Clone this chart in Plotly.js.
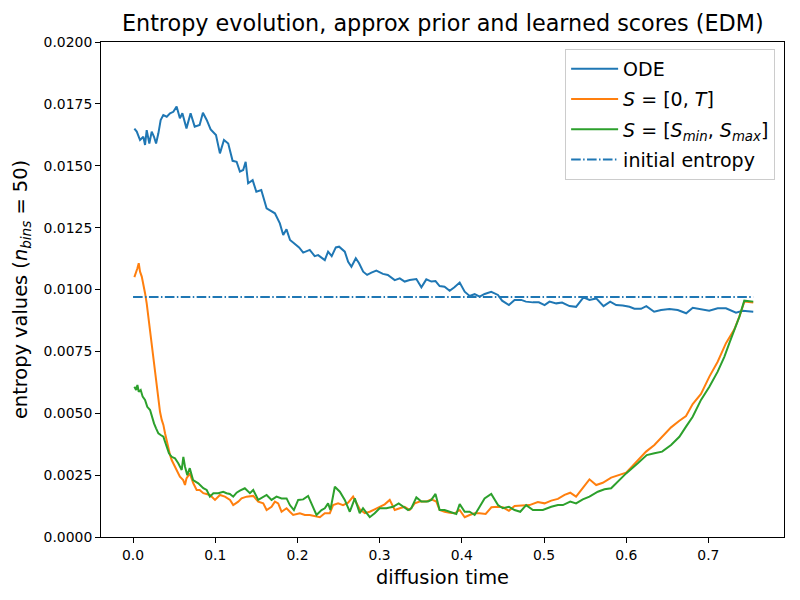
<!DOCTYPE html>
<html>
<head>
<meta charset="utf-8">
<script src="https://cdn.plot.ly/plotly-3.0.1.min.js"></script>
<style>html,body{margin:0;padding:0;background:#fff;}#chart{width:800px;height:600px;}</style>
</head>
<body>
<div id="chart"></div>
<script>
// ODE entropy over diffusion time
const odeT = [0.0016,0.0045,0.0085,0.0125,0.0146,0.0166,0.0198,0.0227,0.0255,0.028,0.0308,0.0336,0.0368,0.041,0.045,0.049,0.053,0.057,0.060,0.065,0.070,0.075,0.081,0.085,0.0896,0.0944,0.1009,0.1057,0.1106,0.1158,0.1211,0.126,0.130,0.134,0.137,0.140,0.1455,0.150,0.156,0.1625,0.1726,0.1786,0.1827,0.1867,0.191,0.197,0.202,0.207,0.215,0.221,0.2252,0.2333,0.2373,0.2417,0.2467,0.2507,0.2576,0.2617,0.2657,0.271,0.275,0.280,0.2848,0.290,0.296,0.304,0.310,0.3184,0.3245,0.3305,0.3366,0.3447,0.3508,0.3568,0.363,0.368,0.373,0.379,0.3852,0.391,0.3974,0.4035,0.4095,0.4156,0.4217,0.4278,0.4358,0.444,0.449,0.4573,0.4642,0.4723,0.478,0.4865,0.4937,0.5007,0.5067,0.5149,0.522,0.531,0.539,0.548,0.5553,0.5635,0.5724,0.5805,0.5878,0.5958,0.604,0.61,0.618,0.6245,0.634,0.6425,0.6526,0.6627,0.673,0.681,0.691,0.701,0.7113,0.7214,0.7336,0.7417,0.7546];
const odeV = [0.0165,0.01638,0.01604,0.01617,0.01584,0.01644,0.0159,0.01638,0.01617,0.0159,0.01631,0.01685,0.01705,0.01698,0.01712,0.01718,0.01739,0.01692,0.01712,0.01651,0.01712,0.01658,0.01665,0.01714,0.01685,0.01647,0.01624,0.0155,0.01604,0.0159,0.0152,0.01516,0.01476,0.01483,0.01516,0.01429,0.01442,0.01395,0.01402,0.01328,0.01308,0.01267,0.0122,0.01243,0.0120,0.01184,0.0117,0.01149,0.0116,0.01135,0.01139,0.01119,0.01153,0.01135,0.0117,0.01173,0.01153,0.01112,0.01092,0.01126,0.01106,0.01072,0.01059,0.01068,0.01076,0.01063,0.01059,0.01038,0.01045,0.01032,0.01038,0.01042,0.01009,0.01041,0.01032,0.01034,0.01014,0.01011,0.00995,0.01009,0.01028,0.00991,0.00974,0.00981,0.00971,0.00982,0.00991,0.00978,0.00955,0.00937,0.00958,0.00958,0.00951,0.00948,0.00948,0.00937,0.00951,0.00944,0.00947,0.00933,0.0093,0.00968,0.00958,0.00964,0.00933,0.00951,0.00937,0.00935,0.0093,0.00922,0.00922,0.00933,0.0091,0.00917,0.00921,0.00917,0.00904,0.00926,0.0092,0.00914,0.00924,0.00924,0.00906,0.00914,0.0091];

// S = [0, T]
const fullT = [0.0016,0.0035,0.0053,0.0069,0.0085,0.0106,0.0125,0.0146,0.0166,0.0186,0.0207,0.0227,0.0247,0.0267,0.0288,0.0308,0.0328,0.0349,0.0369,0.0389,0.041,0.043,0.045,0.047,0.0498,0.053,0.057,0.061,0.0632,0.065,0.069,0.0733,0.0774,0.081,0.0855,0.0935,0.0997,0.1057,0.1118,0.118,0.1219,0.128,0.132,0.1381,0.1462,0.1523,0.1584,0.1625,0.1685,0.1726,0.1766,0.1807,0.1868,0.1908,0.1948,0.203,0.209,0.215,0.221,0.2273,0.2333,0.2394,0.2434,0.2495,0.2555,0.2617,0.2677,0.2718,0.2758,0.282,0.288,0.294,0.300,0.3062,0.3123,0.3184,0.3245,0.3305,0.3366,0.3427,0.3488,0.3568,0.3629,0.369,0.373,0.379,0.3852,0.3913,0.3974,0.4035,0.4095,0.4156,0.4217,0.429,0.436,0.444,0.45,0.4573,0.4642,0.4723,0.4824,0.4925,0.5007,0.5088,0.5169,0.525,0.5319,0.539,0.5472,0.5553,0.5635,0.5715,0.5817,0.5918,0.5999,0.608,0.616,0.6242,0.6343,0.6444,0.6546,0.6647,0.6728,0.6809,0.691,0.7012,0.7113,0.7214,0.7316,0.7377,0.7437,0.7546];
const fullV = [0.0105,0.01065,0.01086,0.01106,0.01072,0.01052,0.01025,0.00985,0.00944,0.0089,0.00836,0.00783,0.00715,0.00661,0.00607,0.00554,0.00506,0.00473,0.00453,0.00419,0.00385,0.00358,0.00331,0.00311,0.00291,0.00271,0.00244,0.0023,0.0021,0.00237,0.00257,0.00217,0.0019,0.0019,0.00177,0.0017,0.0015,0.0017,0.00163,0.0015,0.00129,0.00143,0.00156,0.00163,0.00166,0.00143,0.00136,0.00109,0.00122,0.00143,0.00136,0.00102,0.00116,0.00102,0.00089,0.00096,0.00089,0.00089,0.00085,0.0008,0.00096,0.00096,0.00129,0.00136,0.00129,0.00139,0.00163,0.00136,0.00112,0.00096,0.00102,0.00112,0.00122,0.00132,0.0015,0.00109,0.00116,0.00122,0.00109,0.00136,0.00143,0.00143,0.00152,0.00143,0.00109,0.00102,0.00098,0.00096,0.00109,0.0008,0.00089,0.00096,0.00096,0.00093,0.0012,0.00122,0.0012,0.00106,0.00125,0.00128,0.00129,0.00141,0.00136,0.00147,0.00154,0.0017,0.00179,0.00163,0.00197,0.00233,0.0021,0.00219,0.0024,0.0025,0.0026,0.00288,0.00318,0.00345,0.00372,0.00409,0.00443,0.0047,0.00489,0.00537,0.00578,0.00648,0.00708,0.00783,0.00839,0.0089,0.00951,0.00947];

// S = [S_min, S_max]
const clipT = [0.0016,0.0037,0.0053,0.0069,0.0093,0.0117,0.0146,0.0173,0.0207,0.0227,0.0255,0.028,0.0308,0.0336,0.0369,0.0389,0.041,0.0437,0.047,0.051,0.055,0.0592,0.0612,0.0632,0.066,0.069,0.073,0.0794,0.0855,0.0896,0.0935,0.0977,0.1037,0.1097,0.1138,0.1178,0.1219,0.126,0.13,0.136,0.1422,0.1462,0.1523,0.1584,0.1625,0.1685,0.1746,0.1807,0.1868,0.1908,0.1957,0.2009,0.207,0.213,0.217,0.2232,0.2293,0.2333,0.2373,0.2401,0.2455,0.2516,0.2576,0.2637,0.2698,0.2758,0.2798,0.288,0.294,0.300,0.3082,0.3163,0.3232,0.3285,0.3346,0.3386,0.3447,0.3508,0.3588,0.3629,0.368,0.373,0.379,0.3852,0.3933,0.3974,0.4035,0.4095,0.4156,0.4217,0.4277,0.4358,0.444,0.45,0.4573,0.4642,0.4711,0.4783,0.4865,0.4986,0.5088,0.5169,0.523,0.5319,0.539,0.5472,0.5553,0.5655,0.5736,0.5817,0.5898,0.5999,0.6141,0.625,0.6343,0.6437,0.6546,0.6647,0.6728,0.6809,0.691,0.7012,0.7113,0.7194,0.7255,0.7328,0.7377,0.7437,0.7546];
const clipV = [0.00607,0.00594,0.00614,0.00587,0.00594,0.00567,0.00554,0.00526,0.00513,0.00486,0.00459,0.00439,0.00419,0.00412,0.00405,0.00385,0.00365,0.00338,0.00324,0.00318,0.00298,0.00271,0.00324,0.00284,0.0025,0.00278,0.0023,0.00217,0.00197,0.0019,0.00163,0.00177,0.00177,0.00183,0.00177,0.00174,0.00163,0.00179,0.00187,0.00197,0.00177,0.0019,0.0015,0.00163,0.0017,0.0015,0.00163,0.00156,0.00156,0.00129,0.00109,0.0015,0.00152,0.00166,0.00136,0.00089,0.00109,0.00116,0.00136,0.00109,0.00203,0.00183,0.0015,0.00102,0.00156,0.00096,0.00116,0.0008,0.00096,0.00116,0.00116,0.00122,0.00136,0.00122,0.00109,0.00116,0.0016,0.00143,0.00143,0.0015,0.00174,0.00109,0.00109,0.00102,0.00093,0.00133,0.00102,0.00102,0.00089,0.00122,0.00156,0.00174,0.00129,0.00116,0.00122,0.00109,0.00102,0.00129,0.00109,0.00109,0.00122,0.00129,0.00129,0.00143,0.00136,0.00152,0.00163,0.00183,0.00193,0.00197,0.00224,0.00257,0.00298,0.00331,0.00338,0.00345,0.00372,0.00405,0.00446,0.00486,0.00554,0.00607,0.00668,0.00728,0.00783,0.00843,0.0089,0.00955,0.00951];

// initial entropy level
const initT = [0, 0.7546];
const initV = [0.0097, 0.0097];

const seriesNames = ["ODE", "<i>S</i> = [0, <i>T</i>]", "<i>S</i> = [<i>S</i><sub><i>min</i></sub>, <i>S</i><sub><i>max</i></sub>]", "initial entropy"];
const titleText = "Entropy evolution, approx prior and learned scores (EDM)";
const xLabel = "diffusion time";
const yLabel = "entropy values (<i>n</i><sub><i>bins</i></sub> = 50)";

const FONT = "DejaVu Sans, Liberation Sans, sans-serif";
const traces = [
  {x: odeT, y: odeV, name: seriesNames[0], legendgroup: "a", mode: "lines", line: {color: "#1f77b4", width: 2}},
  {x: fullT, y: fullV, name: seriesNames[1], legendgroup: "b", mode: "lines", line: {color: "#ff7f0e", width: 2}},
  {x: clipT, y: clipV, name: seriesNames[2], legendgroup: "c", mode: "lines", line: {color: "#2ca02c", width: 2}},
  {x: initT, y: initV, name: seriesNames[3], legendgroup: "d", mode: "lines", line: {color: "#1f77b4", width: 2, dash: "9.6px,2.4px,1.5px,2.4px"}}
];

const layout = {
  width: 800, height: 600,
  margin: {l: 101, r: 16, t: 42, b: 63, pad: 0},
  paper_bgcolor: "#ffffff", plot_bgcolor: "#ffffff",
  font: {family: FONT, color: "#000000", size: 14},
  title: {text: titleText, font: {family: FONT, size: 22.3, color: "#000"}, x: 0.5535, xanchor: "center", xref: "container", y: 0.962, yanchor: "middle", yref: "container"},
  showlegend: true,
  legend: {
    x: 0.987, xanchor: "right", y: 0.986, yanchor: "top",
    bgcolor: "rgba(255,255,255,0.8)", bordercolor: "#cccccc", borderwidth: 1,
    font: {family: FONT, size: 19, color: "#000"},
    itemwidth: 47, tracegroupgap: 2.5
  },
  xaxis: {
    range: [-0.039, 0.792], tickmode: "linear", tick0: 0, dtick: 0.1, tickformat: ".1f",
    showgrid: false, zeroline: false, showline: true, mirror: true, linecolor: "#000", linewidth: 1,
    ticks: "outside", ticklen: 5, tickwidth: 1, tickcolor: "#000",
    tickfont: {family: FONT, size: 13.9, color: "#000"},
    title: {text: xLabel, font: {family: FONT, size: 19.4, color: "#000"}, standoff: 8}
  },
  yaxis: {
    range: [0, 0.02], tickmode: "linear", tick0: 0, dtick: 0.0025, tickformat: ".4f",
    showgrid: false, zeroline: false, showline: true, mirror: true, linecolor: "#000", linewidth: 1,
    ticks: "outside", ticklen: 5, tickwidth: 1, tickcolor: "#000",
    tickfont: {family: FONT, size: 13.9, color: "#000"},
    title: {text: yLabel, font: {family: FONT, size: 19.4, color: "#000"}, standoff: 10}
  }
};

Plotly.newPlot("chart", traces, layout, {displayModeBar: false, staticPlot: true});
</script>
</body>
</html>
